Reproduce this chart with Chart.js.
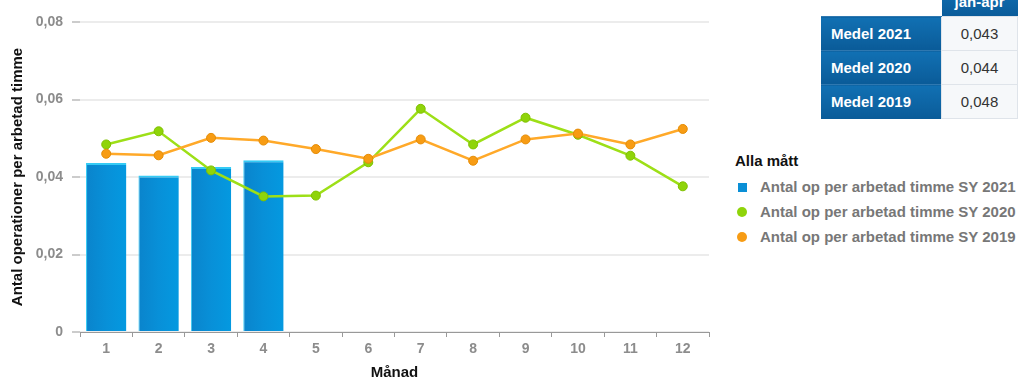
<!DOCTYPE html>
<html lang="sv">
<head>
<meta charset="utf-8">
<title>Antal operationer per arbetad timme</title>
<script src="https://cdn.jsdelivr.net/npm/chart.js@4/dist/chart.umd.min.js"></script>
<style>
  body { margin: 0; background: #fff; font-family: "Liberation Sans", Arial, sans-serif; }
  #wrap { position: relative; width: 1024px; height: 380px; overflow: hidden; }
  #chartBox { position: absolute; left: 0; top: 0; width: 720px; height: 380px; }

  #avgTable { position: absolute; left: 821px; top: -14px; border-collapse: collapse; font-size: 15px; }
  #avgTable td { padding: 0; height: 33px; }
  #avgTable tr.head td { height: 30px; }
  #avgTable td.head { background: linear-gradient(#1270b4, #0a5c9a); color: #fff; font-weight: bold;
                      text-align: center; width: 75px; vertical-align: middle; }
  #avgTable td.lbl { background: linear-gradient(#1170b3, #0a5b98); color: #fff; font-weight: bold;
                     width: 110px; padding-left: 10px; border-top: 1px solid #2f78b0; }
  #avgTable td.val { background: #f6f8fa; color: #333; text-align: center; width: 75px;
                     border: 1px solid #dfe4ea; }

  #legend { position: absolute; left: 735px; top: 150px; }
  #legend .ttl { font-weight: bold; font-size: 15px; color: #111; height: 24px; line-height: 22px; }
  #legend .item { height: 25px; line-height: 25px; font-weight: bold; font-size: 15px; color: #777; white-space: nowrap; }
  #legend .mark { display: inline-block; width: 9px; height: 9px; margin: 0 13px 0 3px; vertical-align: 0px; }
  #legend .mark.dot { width: 10px; height: 10px; border-radius: 50%; margin-left: 2px; }
</style>
</head>
<body>
<div id="wrap">
  <div id="chartBox"><canvas id="chart"></canvas></div>
  <table id="avgTable"></table>
  <div id="legend"></div>
</div>

<script>
// Månader 1-12 och antal operationer per arbetad timme
const months = ['1', '2', '3', '4', '5', '6', '7', '8', '9', '10', '11', '12'];
const sy2021 = [0.0436, 0.0404, 0.0426, 0.0443];
const sy2020 = [0.0484, 0.0518, 0.0417, 0.0350, 0.0352, 0.0438, 0.0576, 0.0484, 0.0553, 0.0509, 0.0455, 0.0376];
const sy2019 = [0.0460, 0.0456, 0.0501, 0.0494, 0.0472, 0.0447, 0.0497, 0.0442, 0.0497, 0.0512, 0.0484, 0.0524];
const seriesLabels = [
    'Antal op per arbetad timme SY 2021',
    'Antal op per arbetad timme SY 2020',
    'Antal op per arbetad timme SY 2019'
];
const yTickLabels = ['0', '0,02', '0,04', '0,06', '0,08'];

// Medelvärden jan-apr
const avgPeriod = 'jan-apr';
const avgNames = ['Medel 2021', 'Medel 2020', 'Medel 2019'];
const avgValues = ['0,043', '0,044', '0,048'];

const COLOR_BAR = '#0a8fd6';
const COLOR_2020 = '#9ddf17';
const COLOR_2019 = '#ffa929';
const FONT = '"Liberation Sans", Arial, sans-serif';

// blue bars, lighter on the right side
function barFill(ctx) {
    const chart = ctx.chart;
    if (!chart.chartArea || !chart.scales.x) return COLOR_BAR;
    const x = chart.scales.x.getPixelForValue(ctx.dataIndex);
    const g = chart.ctx.createLinearGradient(x - 20, 0, x + 20, 0);
    g.addColorStop(0, '#0a84cc');
    g.addColorStop(0.5, '#0890d8');
    g.addColorStop(1, '#0499e0');
    return g;
}

const ctx = document.getElementById('chart').getContext('2d');

new Chart(ctx, {
    type: 'bar',
    data: {
        labels: months,
        datasets: [{
            label: seriesLabels[0],
            data: sy2021,
            backgroundColor: barFill,
            borderColor: '#35cbf5',
            borderWidth: { top: 2, left: 1, right: 0, bottom: 0 },
            borderSkipped: false,
            barPercentage: 0.77,
            categoryPercentage: 1,
            order: 3
        }, {
            type: 'line',
            label: seriesLabels[1],
            data: sy2020,
            borderColor: COLOR_2020,
            borderWidth: 2.5,
            pointBackgroundColor: '#8fd40a',
            pointBorderColor: '#7fc000',
            pointBorderWidth: 1,
            pointRadius: 4.5,
            tension: 0,
            order: 2
        }, {
            type: 'line',
            label: seriesLabels[2],
            data: sy2019,
            borderColor: COLOR_2019,
            borderWidth: 2.5,
            pointBackgroundColor: '#f79c14',
            pointBorderColor: '#e58c05',
            pointBorderWidth: 1,
            pointRadius: 4.5,
            tension: 0,
            order: 1
        }]
    },
    options: {
        responsive: true,
        maintainAspectRatio: false,
        animation: false,
        layout: { padding: { top: 22, right: 11, left: 0, bottom: 0 } },
        plugins: {
            legend: { display: false },
            tooltip: { enabled: false }
        },
        scales: {
            x: {
                afterFit: function (scale) { scale.height = 48; },
                border: { display: true, color: '#999', width: 1 },
                grid: {
                    offset: true,
                    drawOnChartArea: false,
                    drawTicks: true,
                    tickLength: 5,
                    tickColor: '#999'
                },
                ticks: {
                    color: '#8c8c8c',
                    font: { family: FONT, size: 14, weight: 'bold' },
                    padding: 4,
                    maxRotation: 0
                },
                title: {
                    display: true,
                    text: 'Månad',
                    color: '#111',
                    font: { family: FONT, size: 15, weight: 'bold', lineHeight: 1 },
                    padding: { top: 0, bottom: 0 }
                }
            },
            y: {
                min: 0,
                max: 0.08,
                afterFit: function (scale) { scale.width = 80; },
                border: { display: false },
                grid: {
                    color: '#ececec',
                    lineWidth: 2,
                    tickLength: 8,
                    tickColor: '#999',
                    tickWidth: 1
                },
                ticks: {
                    stepSize: 0.02,
                    color: '#8c8c8c',
                    font: { family: FONT, size: 14, weight: 'bold' },
                    padding: 9,
                    callback: function (val, index) { return yTickLabels[index]; }
                },
                title: {
                    display: true,
                    text: 'Antal operationer per arbetad timme',
                    color: '#111',
                    font: { family: FONT, size: 15, weight: 'bold', lineHeight: 1 },
                    padding: { top: 10, bottom: 0 }
                }
            }
        }
    }
});

// Medelvärdestabell
const table = document.getElementById('avgTable');
let html = '<tr class="head"><td></td><td class="head">' + avgPeriod + '</td></tr>';
avgNames.forEach(function (name, i) {
    html += '<tr><td class="lbl">' + name + '</td><td class="val">' + avgValues[i] + '</td></tr>';
});
table.innerHTML = html;

// Teckenförklaring
const markColors = [COLOR_BAR, '#8fd40a', '#f79c14'];
const legend = document.getElementById('legend');
let leg = '<div class="ttl">Alla mått</div>';
seriesLabels.forEach(function (label, i) {
    const cls = i === 0 ? 'mark' : 'mark dot';
    leg += '<div class="item"><span class="' + cls + '" style="background:' + markColors[i] + '"></span>' + label + '</div>';
});
legend.innerHTML = leg;
</script>
</body>
</html>
